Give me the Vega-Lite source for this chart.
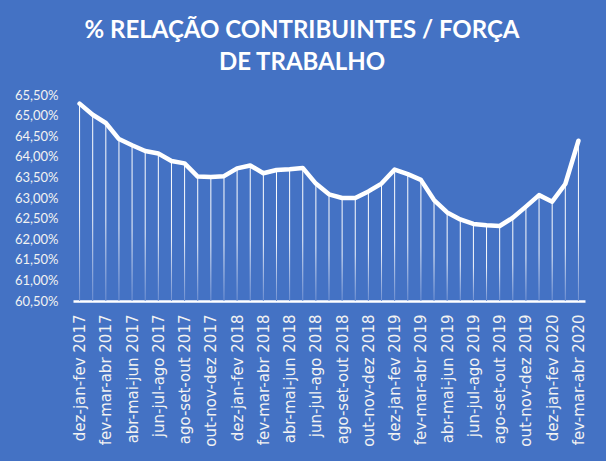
{
  "$schema": "https://vega.github.io/schema/vega-lite/v6.json",
  "width": 512,
  "height": 206,
  "autosize": "none",
  "padding": {"left": 73, "top": 95, "right": 21, "bottom": 160},
  "background": "#4472C4",
  "config": {"view": {"stroke": null}, "font": "Lato"},
  "title": {
    "text": ["% RELAÇÃO CONTRIBUINTES / FORÇA", "DE TRABALHO"],
    "color": "#ffffff",
    "font": "Lato",
    "fontSize": 24,
    "fontWeight": "bold",
    "lineHeight": 32,
    "anchor": "middle",
    "dx": -27,
    "offset": 14
  },
  "data": {
    "values": [
      {"periodo": "dez-jan-fev 2017", "valor": 65.29},
      {"periodo": "jan-fev-mar 2017", "valor": 65.02},
      {"periodo": "fev-mar-abr 2017", "valor": 64.82},
      {"periodo": "mar-abr-mai 2017", "valor": 64.43},
      {"periodo": "abr-mai-jun 2017", "valor": 64.28},
      {"periodo": "mai-jun-jul 2017", "valor": 64.14},
      {"periodo": "jun-jul-ago 2017", "valor": 64.08},
      {"periodo": "jul-ago-set 2017", "valor": 63.9},
      {"periodo": "ago-set-out 2017", "valor": 63.84},
      {"periodo": "set-out-nov 2017", "valor": 63.52},
      {"periodo": "out-nov-dez 2017", "valor": 63.51},
      {"periodo": "nov-dez-jan 2018", "valor": 63.53},
      {"periodo": "dez-jan-fev 2018", "valor": 63.72},
      {"periodo": "jan-fev-mar 2018", "valor": 63.79},
      {"periodo": "fev-mar-abr 2018", "valor": 63.6},
      {"periodo": "mar-abr-mai 2018", "valor": 63.68},
      {"periodo": "abr-mai-jun 2018", "valor": 63.7},
      {"periodo": "mai-jun-jul 2018", "valor": 63.73},
      {"periodo": "jun-jul-ago 2018", "valor": 63.35},
      {"periodo": "jul-ago-set 2018", "valor": 63.09},
      {"periodo": "ago-set-out 2018", "valor": 63.0},
      {"periodo": "set-out-nov 2018", "valor": 63.0},
      {"periodo": "out-nov-dez 2018", "valor": 63.16},
      {"periodo": "nov-dez-jan 2019", "valor": 63.35},
      {"periodo": "dez-jan-fev 2019", "valor": 63.69},
      {"periodo": "jan-fev-mar 2019", "valor": 63.58},
      {"periodo": "fev-mar-abr 2019", "valor": 63.44},
      {"periodo": "mar-abr-mai 2019", "valor": 62.95},
      {"periodo": "abr-mai-jun 2019", "valor": 62.65},
      {"periodo": "mai-jun-jul 2019", "valor": 62.48},
      {"periodo": "jun-jul-ago 2019", "valor": 62.37},
      {"periodo": "jul-ago-set 2019", "valor": 62.34},
      {"periodo": "ago-set-out 2019", "valor": 62.32},
      {"periodo": "set-out-nov 2019", "valor": 62.52},
      {"periodo": "out-nov-dez 2019", "valor": 62.79},
      {"periodo": "nov-dez-jan 2020", "valor": 63.07},
      {"periodo": "dez-jan-fev 2020", "valor": 62.91},
      {"periodo": "jan-fev-mar 2020", "valor": 63.34},
      {"periodo": "fev-mar-abr 2020", "valor": 64.39}
    ]
  },
  "encoding": {
    "x": {
      "field": "periodo",
      "type": "ordinal",
      "sort": null,
      "scale": {"type": "point", "padding": 0.5},
      "axis": {
        "title": null,
        "values": [
          "dez-jan-fev 2017", "fev-mar-abr 2017", "abr-mai-jun 2017", "jun-jul-ago 2017",
          "ago-set-out 2017", "out-nov-dez 2017", "dez-jan-fev 2018", "fev-mar-abr 2018",
          "abr-mai-jun 2018", "jun-jul-ago 2018", "ago-set-out 2018", "out-nov-dez 2018",
          "dez-jan-fev 2019", "fev-mar-abr 2019", "abr-mai-jun 2019", "jun-jul-ago 2019",
          "ago-set-out 2019", "out-nov-dez 2019", "dez-jan-fev 2020", "fev-mar-abr 2020"
        ],
        "labelAngle": -90,
        "labelAlign": "right",
        "labelBaseline": "middle",
        "labelPadding": 13,
        "labelFont": "DejaVu Sans",
        "labelFontSize": 15,
        "labelColor": "#f2f2f2",
        "labelOverlap": false,
        "ticks": false,
        "domainColor": "#ffffff",
        "domainWidth": 2.5,
        "grid": false
      }
    },
    "y": {
      "field": "valor",
      "type": "quantitative",
      "scale": {"domain": [60.5, 65.5], "nice": false, "zero": false},
      "axis": {
        "title": null,
        "values": [60.5, 61, 61.5, 62, 62.5, 63, 63.5, 64, 64.5, 65, 65.5],
        "labelExpr": "replace(format(datum.value, '.2f'), '.', ',') + '%'",
        "labelFont": "Lato",
        "labelFontSize": 13,
        "labelColor": "#f2f2f2",
        "labelPadding": 15,
        "ticks": false,
        "domain": false,
        "grid": false
      }
    }
  },
  "layer": [
    {
      "mark": {
        "type": "bar",
        "size": 1,
        "fill": {
          "gradient": "linear",
          "x1": 0, "y1": 0, "x2": 0, "y2": 1,
          "stops": [
            {"offset": 0, "color": "#ffffff"},
            {"offset": 0.55, "color": "#f4f6fb"},
            {"offset": 1, "color": "#6f90d2"}
          ]
        }
      },
      "encoding": {
        "y2": {"datum": 60.5}
      }
    },
    {
      "mark": {
        "type": "line",
        "color": "#ffffff",
        "strokeWidth": 4.5,
        "strokeCap": "round",
        "strokeJoin": "round"
      }
    }
  ]
}
